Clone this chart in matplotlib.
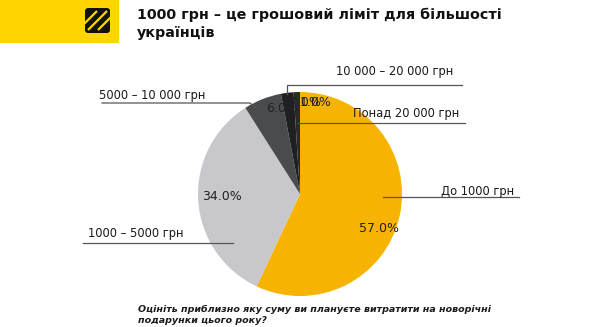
import matplotlib.pyplot as plt
from matplotlib.patches import Rectangle, FancyBboxPatch

categories = ["До 1000 грн", "1000 – 5000 грн", "5000 – 10 000 грн",
              "10 000 – 20 000 грн", "Понад 20 000 грн"]
shares = [57, 34, 6, 2, 1]
colors = ["#F6B400", "#C8C8CC", "#4A4B4F", "#1F2023", "#2A2A2D"]

title = "1000 грн – це грошовий ліміт для більшості\nукраїнців"
question = ("Оцініть приблизно яку суму ви плануєте витратити на новорічні\n"
            "подарунки цього року?")

W, H = 600, 327
fig = plt.figure(figsize=(6, 3.27), dpi=100)
fig.patch.set_facecolor("white")

# overlay in pixel coords (y down)
bg = fig.add_axes([0, 0, 1, 1])
bg.set_xlim(0, W)
bg.set_ylim(H, 0)
bg.axis("off")

# yellow header block + logo
bg.add_patch(Rectangle((0, 0), 119, 43, color="#FFD500", lw=0))
bg.add_patch(FancyBboxPatch((85, 8), 25, 25, boxstyle="round,pad=0,rounding_size=3",
                            fc="#111111", ec="none"))
for off in [-10, 0, 10]:
    bg.plot([85 + off + 3, 110 + off - 3], [33 - 3, 8 + 3], color="#FFD500", lw=1.6,
            solid_capstyle="butt")
bg.add_patch(Rectangle((84, 7), 27, 27, fill=False, ec="#FFD500", lw=1.2))

bg.text(137, 24, title, fontsize=10.3, fontweight="bold", color="#111111",
        ha="left", va="center", linespacing=1.35)
bg.text(138, 315, question, fontsize=6.8, fontweight="bold", style="italic",
        color="#1a1a1a", ha="left", va="center", linespacing=1.35)

# pie
cx, cy, r = 300, 194, 102
pie_ax = fig.add_axes([(cx - r) / W, (H - cy - r) / H, 2 * r / W, 2 * r / H])
wedges, _, autotexts = pie_ax.pie(shares, colors=colors, startangle=90, counterclock=False,
                                  autopct="%.1f%%", pctdistance=0.8,
                                  wedgeprops=dict(lw=0),
                                  textprops=dict(fontsize=9, color="#222222"))
pie_ax.set_xlim(-1, 1)
pie_ax.set_ylim(-1, 1)
pie_ax.set_aspect("equal")

pct_pos = [(379, 228), (222, 197), (282, 109), (305, 103), (316, 103)]
for t, (px, py) in zip(autotexts, pct_pos):
    t.set_position(((px - cx) / r, (cy - py) / r))
    t.set_ha("center")
    t.set_va("center")

# category labels with leader lines
lc = "#555555"
label_pos = [(478, 191), (136, 234), (152, 96), (395, 72), (406, 113)]
leaders = [
    ([383, 519], [197, 197]),
    ([83, 233], [243, 243]),
    ([102, 250, 256], [103, 103, 108]),
    ([287, 287, 462], [94, 85, 85]),
    ([298, 465], [123, 123]),
]
for name, (lx, ly), (xs, ys) in zip(categories, label_pos, leaders):
    bg.text(lx, ly, name, fontsize=8.3, color="#1a1a1a", ha="center", va="center")
    bg.plot(xs, ys, color=lc, lw=0.9)

bg.set_zorder(2)
bg.patch.set_alpha(0)

fig.savefig("out.png", dpi=100)
